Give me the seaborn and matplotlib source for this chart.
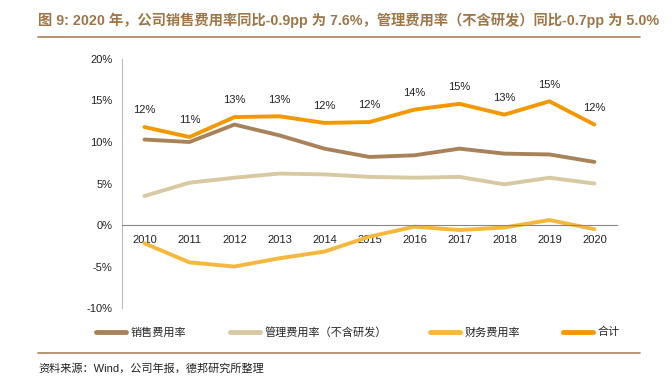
import pandas as pd
import numpy as np
import matplotlib.pyplot as plt
import seaborn as sns

# values (%)
years = ['2010', '2011', '2012', '2013', '2014', '2015', '2016', '2017', '2018', '2019', '2020']
sales = [10.3, 10.0, 12.1, 10.8, 9.2, 8.2, 8.4, 9.2, 8.6, 8.5, 7.6]
admin = [3.5, 5.1, 5.7, 6.2, 6.1, 5.8, 5.7, 5.8, 4.9, 5.7, 5.0]
finance = [-2.2, -4.5, -5.0, -4.0, -3.2, -1.4, -0.2, -0.6, -0.3, 0.6, -0.5]
total = [11.8, 10.6, 13.0, 13.1, 12.3, 12.4, 13.9, 14.6, 13.3, 14.9, 12.1]

series_names = ['销售费用率', '管理费用率（不含研发）', '财务费用率', '合计']
colors = ['#A8835A', '#D9C9A2', '#F5B83D', '#F39800']

df = pd.DataFrame({'year': years, '销售费用率': sales, '管理费用率（不含研发）': admin,
                   '财务费用率': finance, '合计': total})
long = df.melt(id_vars='year', var_name='series', value_name='value')
long['x'] = long['year'].map({y: i for i, y in enumerate(years)})

sns.set_style("white")
plt.rcParams['font.family'] = ['Liberation Sans', 'Noto Sans CJK SC']

fig = plt.figure(figsize=(6.72, 3.88), dpi=100)
ax = fig.add_axes([0.1815, 0.206, 0.7365, 0.642])

sns.lineplot(data=long, x='x', y='value', hue='series', hue_order=series_names,
             palette=colors, linewidth=2.8, ax=ax, legend=False)

# data labels on the total line
for i, v in enumerate(total):
    ax.annotate(f'{round(v)}%', (i, v), xytext=(0, 12), textcoords='offset points',
                ha='center', va='center', fontsize=8, color='#222222')

ax.set_xlim(-0.5, len(years) - 0.5)
ax.set_ylim(-10, 20)
ax.set_yticks(range(-10, 21, 5))
ax.set_yticklabels([f'{t}%' for t in range(-10, 21, 5)])
ax.set_xticks(range(len(years)))
ax.set_xticklabels(years)
ax.set_xticks(np.arange(-0.5, len(years), 1), minor=True)
ax.tick_params(axis='both', which='major', labelsize=8, labelcolor='#222222')
ax.tick_params(axis='x', which='major', length=0, pad=7)
ax.tick_params(axis='x', which='minor', direction='in', length=3, color='#999999')
ax.tick_params(axis='y', direction='out', length=3, color='#bbbbbb', pad=4)
ax.set_xlabel('')
ax.set_ylabel('')

for s in ['top', 'right']:
    ax.spines[s].set_visible(False)
ax.spines['bottom'].set_position(('data', 0))
ax.spines['bottom'].set_color('#888888')
ax.spines['bottom'].set_linewidth(0.8)
ax.spines['left'].set_color('#bbbbbb')
ax.spines['left'].set_linewidth(0.8)

# legend
handles = [plt.Line2D([], [], color=c, linewidth=3.5) for c in colors]
fig.legend(handles, series_names, loc='center', bbox_to_anchor=(0.533, 1 - 332 / 388),
           ncol=4, frameon=False, handlelength=2.7, handletextpad=0.4,
           columnspacing=3.9, prop={'family': 'Noto Sans CJK SC', 'size': 8})

# title, rules and source
fig.text(38 / 672, 1 - 20 / 388, '图 9: 2020 年，公司销售费用率同比-0.9pp 为 7.6%，管理费用率（不含研发）同比-0.7pp 为 5.0%',
         fontsize=10.3, fontweight='bold', color='#9E7748', va='center', ha='left')
fig.add_artist(plt.Line2D([38 / 672, 640 / 672], [1 - 37 / 388, 1 - 37 / 388], color='#A8835A', linewidth=1.2))
fig.add_artist(plt.Line2D([38 / 672, 640 / 672], [1 - 353 / 388, 1 - 353 / 388], color='#A8835A', linewidth=1.2))
fig.text(38 / 672, 1 - 368 / 388, '资料来源：Wind，公司年报，德邦研究所整理', fontsize=8,
         color='#222222', va='center', ha='left')

fig.savefig('out.png', dpi=100)
